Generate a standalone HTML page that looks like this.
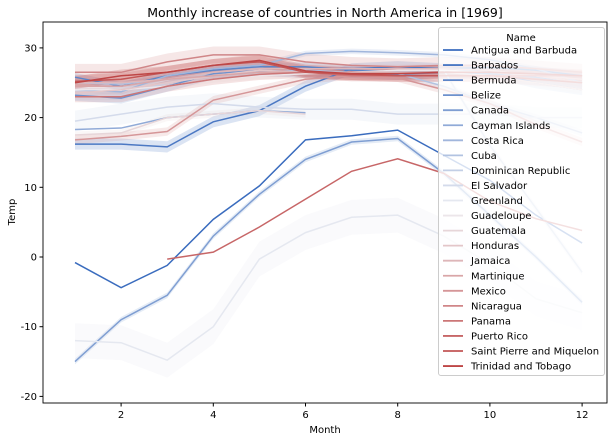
<!DOCTYPE html>
<html><head><meta charset="utf-8"><style>
body{margin:0;background:#fff;font-family:"Liberation Sans","DejaVu Sans",sans-serif}
svg text{font-family:"DejaVu Sans","Liberation Sans",sans-serif}
</style></head><body>
<svg id="chart" width="614" height="441" xmlns="http://www.w3.org/2000/svg">
<rect width="614" height="441" fill="#fff"/>
<text x="325" y="17" font-size="12.5" text-anchor="middle" fill="#000">Monthly increase of countries in North America in [1969]</text>
<g id="bands"></g><g id="lines"></g>
<rect x="43" y="22" width="564" height="381" fill="none" stroke="#000" stroke-width="0.9"/>
<g id="axes"></g>
<text x="325" y="433" font-size="10" text-anchor="middle">Month</text>
<text x="15" y="212" font-size="10" text-anchor="middle" transform="rotate(-90 15 212)">Temp</text>
<g id="legend"></g>
</svg>
<script>
const names=["Antigua and Barbuda","Barbados","Bermuda","Belize","Canada","Cayman Islands","Costa Rica","Cuba","Dominican Republic","El Salvador","Greenland","Guadeloupe","Guatemala","Honduras","Jamaica","Martinique","Mexico","Nicaragua","Panama","Puerto Rico","Saint Pierre and Miquelon","Trinidad and Tobago"];
const months=[1,2,3,4,5,6,7,8,9,10,11,12];
const s0=[-0.8,-4.4,-1.2,5.4,10.2,16.8,17.4,18.2,14.6,11,6,2];
const s1=[16.2,16.2,15.8,19.4,21,24.5,27,27.3,27,26.5,25,24];
const s2=[25.8,24.5,26,26.8,27.3,27.3,26.8,26.6,27,27.2,26.8,26];
const s3=[23.2,22.8,24.5,26.3,26.8,26.5,26.5,26.2,26.5,26.3,25.8,25];
const s4=[-15,-9,-5.5,3,9,14,16.5,17,12,6,0,-6.5];
const s5=[18.3,18.5,20,20.5,21,20.7,null,null,null,null,null,null];
const s6=[24,23.7,26,27,27.5,29.2,29.5,29.3,29,28.3,27,25];
const s7=[25,24.8,25.5,26,26.5,26.8,26.5,26.3,24.5,22,20,17.8];
const s8=[23,23,25,26,26.5,26.5,26.5,26.7,26.8,16,7,-2.2];
const s9=[19.5,20.5,21.5,22,21.5,21.2,21.2,20.5,20.5,20.5,20,20];
const s10=[-12,-12.3,-14.8,-10,-0.3,3.5,5.7,6,3,-1,-6,-8];
const s11=[24,24,24.5,25.5,26,26.3,26.5,26.8,26.8,26.5,26,25];
const s12=[17.5,17.8,20,20.5,21,20.5,null,null,null,null,null,null];
const s13=[23.5,24,25,26,26.8,26.5,26.5,26.5,26.5,26,25,24];
const s14=[25,25,25.5,26.5,27,27,27,27,27,26.8,26,25.5];
const s15=[24.5,24.5,25.5,26,26.5,26.5,26.5,26.5,26.5,26.5,26,25];
const s16=[16.8,17.3,18,22.5,24,25.5,26,25.7,24,22,19,16.5];
const s17=[26.5,26.5,28,29,29,28,27.5,27.3,27.5,27.5,27,26.5];
const s18=[23,23,24.5,25.5,26.2,26.5,26,26,26,26,26,26];
const s19=[null,null,-0.3,0.7,4.3,8.3,12.3,14.1,12,8,5.5,3.8];
const s20=[25.2,25.5,26.5,27.5,28,26.5,26.2,26,26,26,25.5,25];
const s21=[25,26,26.5,27.5,28.2,26.7,26.3,26.3,26.5,26.5,26.3,26];
const series=[s0,s1,s2,s3,s4,s5,s6,s7,s8,s9,s10,s11,s12,s13,s14,s15,s16,s17,s18,s19,s20,s21];
const ciHalf=[0,0.8,0.6,0.8,0.4,0,0.4,0.5,0.5,1.5,2.5,0.5,0.5,0.6,0.6,0.6,0.6,1.2,0.8,0,0.9,0.9];
const xTicks=[2,4,6,8,10,12];
const yTicks=[-20,-10,0,10,20,30];
const X=m=>75+(m-1)*46.1;
const Y=v=>257-v*6.97;
const NS="http://www.w3.org/2000/svg";
function mk(t,a,p){const e=document.createElementNS(NS,t);for(const k in a)e.setAttribute(k,a[k]);p.appendChild(e);return e;}
function col(i){const t=i/(names.length-1);let a,b,u;
 const B=[58,108,190],M=[238,238,242],R=[190,70,70];
 if(t<0.5){a=B;b=M;u=t/0.5;}else{a=M;b=R;u=(t-0.5)/0.5;}
 return `rgb(${a.map((v,k)=>Math.round(v+(b[k]-v)*u)).join(",")})`;}
const bands=document.getElementById('bands'),lines=document.getElementById('lines');
series.forEach((s,i)=>{
 const pts=months.map((m,j)=>[m,s[j]]).filter(p=>p[1]!==null);
 const c=col(i);
 if(ciHalf[i]>0){
  const up=pts.map(p=>X(p[0])+","+Y(p[1]+ciHalf[i]));
  const dn=pts.slice().reverse().map(p=>X(p[0])+","+Y(p[1]-ciHalf[i]));
  const b=mk('polygon',{points:up.concat(dn).join(" "),fill:c,opacity:0.2},bands);
  
  
 }
 const l=mk('polyline',{points:pts.map(p=>X(p[0])+","+Y(p[1])).join(" "),fill:"none",stroke:c,"stroke-width":1.5},lines);
 
 
});
const axes=document.getElementById('axes');
xTicks.forEach(v=>{
 mk('line',{x1:X(v),x2:X(v),y1:403,y2:406.5,stroke:"#000"},axes);
 const t=mk('text',{x:X(v),y:418,"font-size":10,"text-anchor":"middle"},axes);t.textContent=v;
 
 
});
yTicks.forEach(v=>{
 mk('line',{x1:39.5,x2:43,y1:Y(v),y2:Y(v),stroke:"#000"},axes);
 const t=mk('text',{x:37,y:Y(v)+3.5,"font-size":10,"text-anchor":"end"},axes);t.textContent=v;
 
 
});
const lg=document.getElementById('legend');
const box=mk('rect',{x:438.5,y:27.5,width:166,height:348,rx:2.5,fill:"#fff","fill-opacity":0.8,stroke:"#ccc"},lg);


const tt=mk('text',{x:521,y:41,"font-size":10,"text-anchor":"middle"},lg);tt.textContent="Name";


names.forEach((n,i)=>{
 const y=50+i*15.05;
 const g=mk('g',{},lg);
 
 
 mk('line',{x1:443,x2:463,y1:y,y2:y,stroke:col(i),"stroke-width":1.8},g);
 const t=mk('text',{x:471,y:y+3.5,"font-size":10},g);t.textContent=n;
});
</script>
</body></html>
